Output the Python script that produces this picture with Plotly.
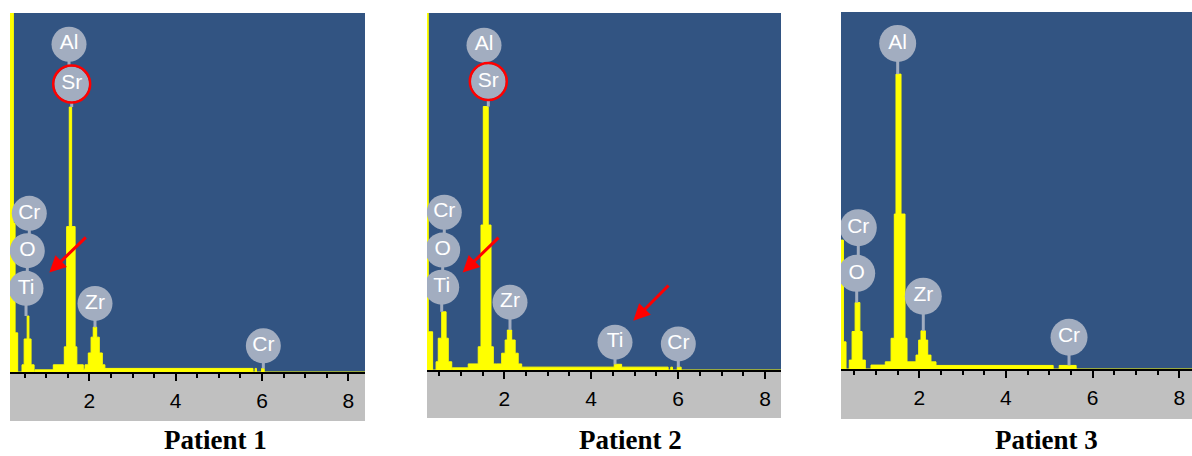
import plotly.graph_objects as go

# EDS spectra, step outline: energy (keV) where each level starts, counts (arb. units, 1000 = top of frame)
p1_energy = [0.10, 0.24, 0.28, 0.34, 0.44, 0.49, 0.56, 0.60, 0.65, 0.72, 0.74, 1.165, 1.42, 1.475, 1.535,
             1.59, 1.67, 1.71, 1.86, 1.90, 1.976, 2.04, 2.09, 2.17, 2.23, 2.30, 2.36, 5.79, 5.84, 5.87,
             5.99, 6.05, 8.5]
p1_counts = [1500, 415, 109, 0, 20, 92, 156, 92, 20, 0, 6, 20, 70, 405, 738,
             405, 70, 20, 8, 20, 53, 97, 125, 97, 53, 20, 10, 0, 10, 0,
             10, 0, 0]

p2_energy = [0.10, 0.25, 0.35, 0.43, 0.48, 0.56, 0.66, 0.71, 0.79, 0.80, 1.17, 1.40, 1.464, 1.517,
             1.63, 1.694, 1.747, 1.825, 1.94, 2.02, 2.07, 2.17, 2.25, 2.32, 2.40, 4.53, 4.70, 5.77,
             5.83, 5.87, 5.98, 6.07, 8.5]
p2_counts = [1500, 107, 0, 23, 89, 163, 89, 23, 0, 6, 17, 65, 406, 738,
             406, 65, 17, 17, 47, 84, 112, 84, 47, 17, 8, 16, 8, 0,
             8, 0, 8, 0, 0]

p3_energy = [0.10, 0.25, 0.31, 0.385, 0.45, 0.52, 0.63, 0.68, 0.755, 0.886, 1.216, 1.35, 1.424, 1.463,
             1.579, 1.671, 1.717, 1.81, 1.925, 1.987, 2.04, 2.14, 2.195, 2.27, 2.386, 5.09, 5.23, 5.62, 8.5]
p3_counts = [361, 76, 0, 25, 105, 186, 105, 25, 0, 11, 20, 86, 434, 826,
             434, 86, 20, 20, 39, 81, 107, 81, 39, 20, 10, 0, 10, 0, 0]

# element markers: name, energy, height of label, where the pin ends
p1_elements = ["Al", "Sr", "Cr", "O", "Ti", "Zr", "Cr"]
p1_label_x = [1.529, 1.591, 0.609, 0.563, 0.533, 2.131, 6.03]
p1_label_y = [913, 802, 442, 338, 233, 191, 73]
p1_pin_end = [802, 738, 338, 233, 156, 125, 10]

p2_elements = ["Al", "Sr", "Cr", "O", "Ti", "Zr", "Ti", "Cr"]
p2_label_x = [1.533, 1.632, 0.619, 0.582, 0.559, 2.131, 4.548, 6.005]
p2_label_y = [910, 808, 442, 336, 232, 190, 78, 73]
p2_pin_end = [808, 738, 336, 232, 163, 112, 16, 8]

p3_elements = ["Al", "Cr", "O", "Zr", "Cr"]
p3_label_x = [1.502, 0.593, 0.556, 2.093, 5.456]
p3_label_y = [912, 396, 268, 204, 89]
p3_pin_end = [826, 268, 186, 107, 10]

captions = ["Patient 1", "Patient 2", "Patient 3"]

W, H = 1192, 456
BLUE = "#325482"
YELLOW = "#ffff00"
TAG = "#a2adc0"

# pixel frames: left, right, top, baseline, bottom of grey strip, x range
panels = [
    dict(l=10, r=365, t=13, b=372, g=421, xr=[0.162, 8.385], cx=215),
    dict(l=427, r=781, t=13, b=370, g=418, xr=[0.221, 8.368], cx=630),
    dict(l=841, r=1192, t=12, b=369, g=419, xr=[0.194, 8.294], cx=1046),
]
spectra = [(p1_energy, p1_counts), (p2_energy, p2_counts), (p3_energy, p3_counts)]
tags = [(p1_elements, p1_label_x, p1_label_y, p1_pin_end),
        (p2_elements, p2_label_x, p2_label_y, p2_pin_end),
        (p3_elements, p3_label_x, p3_label_y, p3_pin_end)]

fig = go.Figure()
shapes = []
annotations = []

for i, p in enumerate(panels):
    n = "" if i == 0 else str(i + 1)
    xa, ya = "x" + n, "y" + n
    ex, cy = spectra[i]
    fig.add_trace(go.Scatter(x=ex, y=cy, mode="lines", line_shape="hv",
                             line=dict(color=YELLOW, width=1), fill="tozeroy",
                             fillcolor=YELLOW, xaxis=xa, yaxis=ya, hoverinfo="skip"))
    names, lx, ly, pe = tags[i]
    px_, py_ = [], []
    for x0, y0, y1 in zip(lx, ly, pe):
        px_ += [x0, x0, None]
        py_ += [y0, y1, None]
    fig.add_trace(go.Scatter(x=px_, y=py_, mode="lines", line=dict(color=TAG, width=3),
                             xaxis=xa, yaxis=ya, hoverinfo="skip"))
    size = 37 if i == 2 else 35
    fig.add_trace(go.Scatter(x=lx, y=ly, mode="markers+text", text=names,
                             textposition="middle center",
                             textfont=dict(family="Liberation Sans", size=21, color="white"),
                             marker=dict(size=size, color=TAG),
                             xaxis=xa, yaxis=ya, hoverinfo="skip"))
    if "Sr" in names:
        k = names.index("Sr")
        fig.add_trace(go.Scatter(x=[lx[k]], y=[ly[k]], mode="markers",
                                 marker=dict(size=37, symbol="circle-open", color="#ff0000",
                                             line=dict(color="#ff0000", width=2.5)),
                                 xaxis=xa, yaxis=ya, hoverinfo="skip"))

    fig.layout["xaxis" + n] = dict(
        domain=[p["l"] / W, p["r"] / W], range=p["xr"], anchor=ya,
        showgrid=False, zeroline=False, showline=True, linecolor="black", linewidth=2,
        tickmode="linear", tick0=0, dtick=2, ticks="outside", ticklen=7, tickwidth=2,
        tickcolor="black", ticklabelstandoff=2,
        tickfont=dict(family="Liberation Sans", size=21, color="black"),
        minor=dict(tickmode="linear", tick0=0, dtick=0.5, ticks="outside", ticklen=4,
                   tickwidth=1.5, tickcolor="black", showgrid=False),
        fixedrange=True)
    fig.layout["yaxis" + n] = dict(
        domain=[1 - p["b"] / H, 1 - p["t"] / H], range=[0, 1000], anchor=xa,
        visible=False, fixedrange=True)

    shapes.append(dict(type="rect", xref="paper", yref="paper", layer="below",
                       x0=p["l"] / W, x1=p["r"] / W, y0=1 - p["g"] / H, y1=1 - p["b"] / H,
                       fillcolor="#c0c0c0", line=dict(width=0)))
    shapes.append(dict(type="rect", xref="paper", yref="paper", layer="below",
                       x0=p["l"] / W, x1=p["r"] / W, y0=1 - p["b"] / H, y1=1 - p["t"] / H,
                       fillcolor=BLUE, line=dict(width=0)))
    annotations.append(dict(text="<b>" + captions[i] + "</b>", xref="paper", yref="paper",
                            x=p["cx"] / W, y=0, showarrow=False, borderpad=0,
                            xanchor="center", yanchor="bottom",
                            font=dict(family="Liberation Serif", size=27, color="black")))

# red arrows pointing at the Ti peaks (tip, tail in keV / counts)
arrows = [("x", "y", 1.073, 277, 1.953, 379),
          ("x2", "y2", 1.042, 273, 1.901, 375),
          ("x2", "y2", 4.969, 138, 5.813, 241)]
for xr, yr, x0, y0, x1, y1 in arrows:
    annotations.append(dict(xref=xr, yref=yr, axref=xr, ayref=yr, x=x0, y=y0, ax=x1, ay=y1,
                            text="", showarrow=True, arrowhead=2, arrowsize=1.1,
                            arrowwidth=3, arrowcolor="#ff0000", standoff=0))

fig.update_layout(width=W, height=H, margin=dict(l=0, r=0, t=0, b=0),
                  paper_bgcolor="white", plot_bgcolor=BLUE, showlegend=False,
                  shapes=shapes, annotations=annotations)

# the page's body has a default 8px margin; drop it so the figure sits at the window corner
fig.write_html("out.html", config={"displayModeBar": False},
               post_script="document.body.style.margin='0';document.body.style.overflow='hidden';")
